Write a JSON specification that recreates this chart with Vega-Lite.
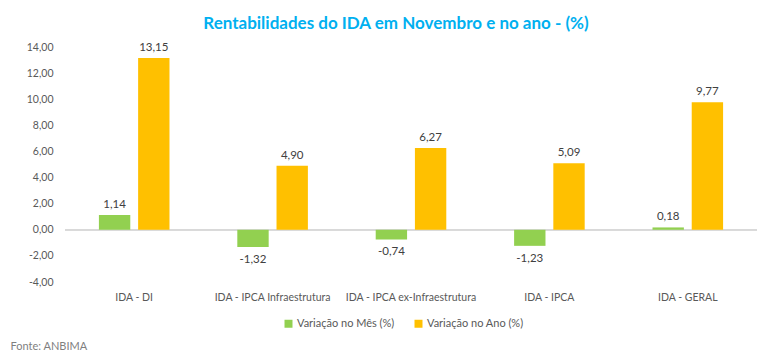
{
  "$schema": "https://vega.github.io/schema/vega-lite/v6.json",
  "width": 692,
  "height": 235,
  "autosize": {"type": "none"},
  "padding": {"left": 65, "top": 47, "right": 17, "bottom": 73},
  "background": "white",
  "config": {
    "locale": {"number": {"decimal": ",", "thousands": ".", "grouping": [3], "currency": ["R$ ", ""], "minus": "-"}},
    "view": {"stroke": null},
    "font": "Lato"
  },
  "title": {
    "text": "Rentabilidades do IDA em Novembro e no ano - (%)",
    "color": "#00B0F0",
    "fontSize": 17,
    "font": "Lato",
    "fontWeight": "bold",
    "anchor": "middle",
    "dx": -15,
    "offset": 9
  },
  "data": {
    "values": [
      {"indice": "IDA - DI", "serie": "Variação no Mês (%)", "valor": 1.14},
      {"indice": "IDA - DI", "serie": "Variação no Ano (%)", "valor": 13.15},
      {"indice": "IDA - IPCA Infraestrutura", "serie": "Variação no Mês (%)", "valor": -1.32},
      {"indice": "IDA - IPCA Infraestrutura", "serie": "Variação no Ano (%)", "valor": 4.90},
      {"indice": "IDA - IPCA ex-Infraestrutura", "serie": "Variação no Mês (%)", "valor": -0.74},
      {"indice": "IDA - IPCA ex-Infraestrutura", "serie": "Variação no Ano (%)", "valor": 6.27},
      {"indice": "IDA - IPCA", "serie": "Variação no Mês (%)", "valor": -1.23},
      {"indice": "IDA - IPCA", "serie": "Variação no Ano (%)", "valor": 5.09},
      {"indice": "IDA - GERAL", "serie": "Variação no Mês (%)", "valor": 0.18},
      {"indice": "IDA - GERAL", "serie": "Variação no Ano (%)", "valor": 9.77}
    ]
  },
  "encoding": {
    "x": {
      "field": "indice",
      "type": "nominal",
      "sort": null,
      "scale": {"paddingInner": 0.49, "paddingOuter": 0.245},
      "axis": {
        "title": "Fonte: ANBIMA",
        "titleFont": "Lato",
        "titleFontSize": 11,
        "titleFontWeight": "normal",
        "titleColor": "#7F7F7F",
        "titleAnchor": "start",
        "titleAlign": "left",
        "titleBaseline": "middle",
        "titleX": -55,
        "titleY": 64,
        "labelAngle": 0,
        "labelFontSize": 10.5,
        "labelColor": "#595959",
        "labelPadding": 10,
        "domain": false,
        "ticks": false,
        "grid": false
      }
    },
    "y": {
      "field": "valor",
      "type": "quantitative",
      "scale": {"domain": [-4, 14], "nice": false, "zero": false},
      "axis": {
        "title": null,
        "values": [-4, -2, 0, 2, 4, 6, 8, 10, 12, 14],
        "format": ".2f",
        "labelFontSize": 10.5,
        "labelColor": "#595959",
        "labelPadding": 12,
        "domain": false,
        "ticks": false,
        "grid": false
      }
    },
    "xOffset": {
      "field": "serie",
      "type": "nominal",
      "sort": ["Variação no Mês (%)", "Variação no Ano (%)"],
      "scale": {"paddingInner": 0.2, "paddingOuter": 0}
    }
  },
  "layer": [
    {
      "mark": {"type": "rule", "color": "#D9D9D9", "strokeWidth": 1},
      "encoding": {"y": {"datum": 0}, "x": null, "xOffset": null}
    },
    {
      "mark": {"type": "bar"},
      "encoding": {
        "color": {
          "field": "serie",
          "type": "nominal",
          "scale": {"domain": ["Variação no Mês (%)", "Variação no Ano (%)"], "range": ["#92D050", "#FFC000"]},
          "legend": {
            "title": null,
            "orient": "none",
            "direction": "horizontal",
            "legendX": 218,
            "legendY": 271,
            "symbolType": "square",
            "symbolSize": 64,
            "symbolStrokeWidth": 0,
            "labelFontSize": 11,
            "labelColor": "#595959",
            "labelOffset": 3,
            "columnPadding": 18
          }
        }
      }
    },
    {
      "transform": [{"filter": "datum.valor >= 0"}],
      "mark": {"type": "text", "baseline": "bottom", "dy": -5, "fontSize": 11.5, "color": "#404040"},
      "encoding": {"text": {"field": "valor", "type": "quantitative", "format": ".2f"}}
    },
    {
      "transform": [{"filter": "datum.valor < 0"}],
      "mark": {"type": "text", "baseline": "top", "dy": 7, "fontSize": 11.5, "color": "#404040"},
      "encoding": {"text": {"field": "valor", "type": "quantitative", "format": ".2f"}}
    }
  ]
}
